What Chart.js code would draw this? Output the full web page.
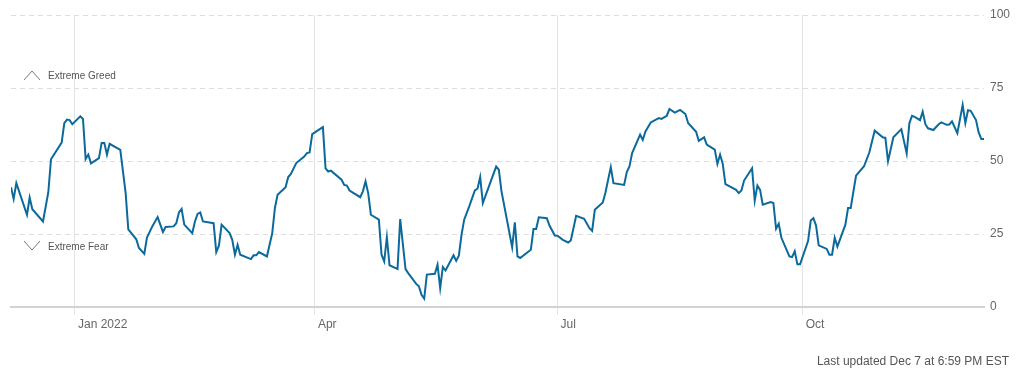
<!DOCTYPE html>
<html>
<head>
<meta charset="utf-8">
<title>Fear &amp; Greed Index</title>
<script src="https://cdn.jsdelivr.net/npm/chart.js@4.4.0/dist/chart.umd.min.js"></script>
<style>
    body { margin: 0; background: #fff; }
    #wrap { position: relative; width: 1017px; height: 376px; }
    #updated {
        position: absolute; right: 8px; top: 354px;
        font: 12px "Liberation Sans", Arial, sans-serif; color: #555;
    }
</style>
</head>
<body>
<div id="wrap">
    <canvas id="fgChart" width="1017" height="376"></canvas>
    <div id="updated">Last updated Dec 7 at 6:59 PM EST</div>
</div>
<script>
(function() {
    'use strict';

    // days counted from 1 Jan 2022 (negative = Dec 2021)
    const days = [
        -24, -23, -22, -18, -17, -16, -12, -10, -9, -5, -4, -3, -2, -1,
        2, 3, 4, 5, 6, 9, 10, 11, 12, 13, 17, 19, 20, 23, 24, 26, 27, 29, 31, 33, 34,
        37, 38, 39, 40, 41, 44, 45, 46, 47, 48, 52, 53, 54, 55, 58, 59, 60, 61, 62,
        66, 67, 68, 69, 72, 74, 75, 76, 79, 80, 81, 83, 86, 87, 88, 89,
        93, 94, 95, 96, 100, 101, 102, 103, 107, 108, 109, 110, 111, 114, 115, 116, 117, 118,
        121, 122, 124, 125, 128, 129, 130, 131, 132, 135, 136, 137, 138, 139,
        142, 143, 144, 145, 146, 148, 150, 151, 152, 153, 158, 159, 160,
        164, 165, 166, 167, 171, 172, 173, 174, 177, 178, 180, 181, 183, 185, 186, 188,
        191, 193, 194, 195, 198, 199, 201, 202, 206, 207, 208, 209, 212, 213, 214, 216,
        219, 220, 222, 223, 225, 227, 229, 230, 233, 234, 236, 237, 240, 241, 242, 243, 244,
        248, 249, 250, 251, 254, 255, 256, 257, 258, 261, 262, 263, 264, 265,
        268, 269, 270, 271, 272, 275, 276, 277, 278, 279, 282, 283, 284, 285, 286,
        289, 290, 291, 293, 296, 298, 300, 303, 304, 305, 307, 310, 312, 313, 314, 315,
        317, 318, 319, 320, 322, 324, 325, 327, 328, 329, 331, 333, 334, 335, 336,
        338, 339, 340, 341
    ];

    const fearGreed = [
        41, 37, 42.4, 31.6, 37.5, 33.5, 29.3, 39.3, 50.6, 56.3, 63, 64.2, 64, 62.6,
        65.3, 64.4, 50.7, 52.2, 49.2, 51, 56.2, 56.2, 52.2, 55.9, 53.8, 39.1, 26.6, 23.2, 20.2, 18.2, 23.8, 27.6, 30.8, 25.7, 27.4,
        27.6, 28.7, 32.4, 33.6, 28.2, 25.3, 29.3, 31.9, 32.4, 29.3, 28.7, 18.8, 21, 28.2, 25.3, 23, 17.9, 21.3, 17.9,
        16.4, 17.7, 17.7, 18.8, 17.3, 25.3, 33.9, 38.4, 41, 44.5, 45.6, 49.3, 51.5, 52.7, 52.9, 59.2,
        61.6, 47.5, 46.4, 46.7, 43.6, 41.8, 41.6, 39.9, 37.6, 39.6, 43, 39, 31.6, 29.9, 17.9, 15.6, 23.9, 14.3,
        13, 30.1, 13, 11.6, 7.9, 7.1, 4.2, 2.9, 11.1, 11.4, 14.5, 6.5, 13.7, 12.5,
        17.7, 15.8, 17.6, 24.7, 29.9, 34.7, 39.9, 40.5, 44.5, 35.6, 48.1, 47, 39.6,
        20.5, 29, 17.3, 16.8, 19.6, 26.7, 26.7, 30.7, 30.4, 27.9, 24.5, 24.4, 23, 22.1, 22.8, 31.2,
        30.2, 27, 26.1, 33.3, 35.8, 39.2, 47.9, 42.4, 41.8, 46.2, 48.1, 52.7, 59, 57.2, 60.1, 63.2,
        64.7, 64.4, 65.5, 67.8, 66.6, 67.5, 66.1, 63, 60, 56.9, 58.1, 55.6, 53.9, 49, 52.2, 49, 42.1,
        40.1, 39, 39.9, 43.3, 47.5, 36.4, 41.6, 40.1, 35, 35.9, 35.6, 26.8, 28.5, 23.7,
        17.3, 17.1, 19.1, 14.6, 14.6, 22.6, 29.6, 30.4, 27.9, 21.1, 19.9, 17.9, 17.9, 23.7, 20.7,
        28.2, 33.9, 33.9, 45, 48.2, 53, 60.4, 58.1, 57.9, 49.9, 58.1, 60.9, 52.6, 62.9, 65.5, 65.1,
        64, 66.9, 62.6, 61.2, 60.6, 62.6, 63.2, 62.4, 62.5, 63.6, 59.5, 69.2, 63, 67.4, 67.2,
        64, 59.8, 57.5, 57.5
    ];

    const tickDays = [0, 90, 181, 273];
    const tickLabels = ['Jan 2022', 'Apr', 'Jul', 'Oct'];
    const yTicks = [0, 25, 50, 75, 100];

    const lineColor = '#0b6a9b';
    const textColor = '#666';
    const baseFont = '"Liberation Sans", Arial, sans-serif';

    // Extreme Greed / Extreme Fear markers drawn next to the 75 and 25 lines
    const zoneLabels = {
        id: 'zoneLabels',
        afterDraw(chart) {
            const ctx = chart.ctx;
            const y = chart.scales.y;
            const left = chart.chartArea.left;
            const yGreed = y.getPixelForValue(75);
            const yFear = y.getPixelForValue(25);

            ctx.save();
            ctx.strokeStyle = '#777';
            ctx.lineWidth = 1;
            ctx.beginPath();
            ctx.moveTo(left + 13, yGreed - 8);
            ctx.lineTo(left + 21, yGreed - 17);
            ctx.lineTo(left + 29, yGreed - 8);
            ctx.moveTo(left + 13, yFear + 7);
            ctx.lineTo(left + 21, yFear + 16);
            ctx.lineTo(left + 29, yFear + 7);
            ctx.stroke();

            ctx.fillStyle = '#555';
            ctx.font = '10px ' + baseFont;
            ctx.textBaseline = 'middle';
            ctx.textAlign = 'left';
            ctx.fillText('Extreme Greed', left + 37, yGreed - 12);
            ctx.fillText('Extreme Fear', left + 37, yFear + 13);
            ctx.restore();
        }
    };

    new Chart(document.getElementById('fgChart'), {
        type: 'line',
        data: {
            datasets: [{
                data: days.map((d, i) => ({ x: d, y: fearGreed[i] })),
                borderColor: lineColor,
                borderWidth: 2,
                pointRadius: 0,
                tension: 0,
                fill: false
            }]
        },
        options: {
            responsive: false,
            animation: false,
            parsing: false,
            layout: { padding: { left: 11, top: 15, right: 0, bottom: 0 } },
            plugins: {
                legend: { display: false },
                tooltip: { enabled: false }
            },
            scales: {
                x: {
                    type: 'linear',
                    min: -24,
                    max: 341,
                    afterBuildTicks: function(scale) {
                        scale.ticks = tickDays.map(v => ({ value: v }));
                    },
                    afterFit: function(scale) { scale.height = 69; },
                    grid: {
                        color: '#e3e3e3',
                        lineWidth: 1,
                        drawTicks: true,
                        tickLength: 8,
                        tickColor: '#e3e3e3'
                    },
                    border: { display: true, color: '#d2d2d2', width: 2 },
                    ticks: {
                        autoSkip: false,
                        maxRotation: 0,
                        align: 'start',
                        labelOffset: 3,
                        padding: 2,
                        color: textColor,
                        font: { family: baseFont, size: 12 },
                        callback: function(value) {
                            const i = tickDays.indexOf(value);
                            return i >= 0 ? tickLabels[i] : '';
                        }
                    }
                },
                y: {
                    position: 'right',
                    min: 0,
                    max: 100,
                    afterBuildTicks: function(scale) {
                        scale.ticks = yTicks.map(v => ({ value: v }));
                    },
                    afterFit: function(scale) { scale.width = 33; },
                    grid: {
                        color: (ctx) => ctx.tick && ctx.tick.value === 0 ? 'rgba(0,0,0,0)' : '#dedede',
                        lineWidth: 1,
                        drawTicks: false
                    },
                    border: { display: false, dash: [5, 4] },
                    ticks: {
                        padding: 6,
                        color: textColor,
                        font: { family: baseFont, size: 12 }
                    }
                }
            }
        },
        plugins: [zoneLabels]
    });
})();
</script>
</body>
</html>
